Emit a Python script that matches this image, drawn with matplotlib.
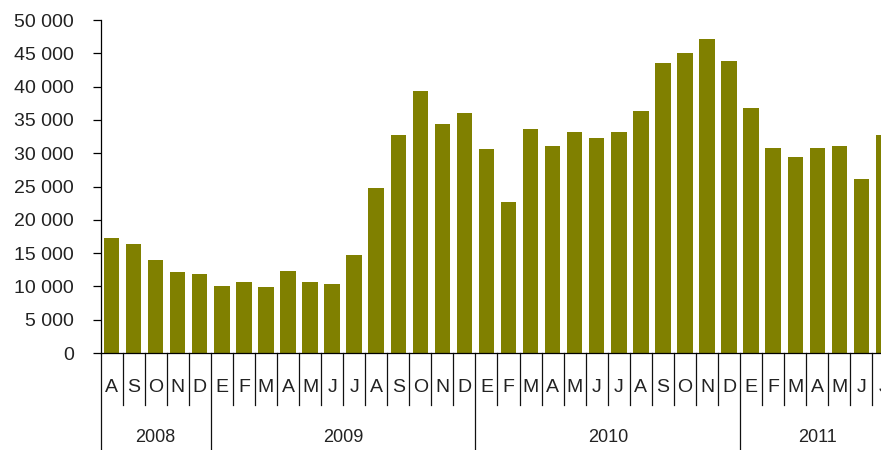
import matplotlib
matplotlib.use("Agg")
import matplotlib.pyplot as plt
from matplotlib.ticker import FuncFormatter

# monthly values, Aug 2008 .. Jul 2011
values = [17300, 16400, 14000, 12200, 11800,
          10100, 10600, 9900, 12300, 10600, 10400, 14700, 24800, 32800, 39300, 34400, 36100,
          30600, 22600, 33700, 31100, 33200, 32300, 33200, 36400, 43600, 45000, 47200, 43800,
          36800, 30800, 29400, 30800, 31100, 26200, 32800]
month_labels = ["A", "S", "O", "N", "D",
                "E", "F", "M", "A", "M", "J", "J", "A", "S", "O", "N", "D",
                "E", "F", "M", "A", "M", "J", "J", "A", "S", "O", "N", "D",
                "E", "F", "M", "A", "M", "J", "J"]
years = ["2008", "2009", "2010", "2011"]
year_counts = [5, 12, 12, 7]

plt.rcParams['font.family'] = ['Liberation Sans Narrow', 'Liberation Sans', 'DejaVu Sans']

W, H = 881, 450
fig = plt.figure(figsize=(W / 100, H / 100), dpi=100)
x0, x1, y0, y1 = 100.5, 894.5, 353, 20
ax = fig.add_axes([x0 / W, (H - y0) / H, (x1 - x0) / W, (y0 - y1) / H])

x = list(range(len(values)))
ax.bar(x, values, width=0.7, color="#808000")

ax.set_xlim(-0.5, len(values) - 0.5)
ax.set_ylim(0, 50000)
ax.set_yticks(range(0, 50001, 5000))
ax.yaxis.set_major_formatter(FuncFormatter(lambda v, p: "{:,}".format(int(v)).replace(",", " ")))
ax.tick_params(axis="y", length=6, width=0.9, pad=13, labelsize=14, labelcolor="#222222",
               labelfontfamily="Liberation Sans")
ax.set_xticks([])
for s in ["top", "right"]:
    ax.spines[s].set_visible(False)
ax.spines["left"].set_linewidth(0.9)
ax.spines["bottom"].set_linewidth(0.9)

ah = y0 - y1
tr = ax.get_xaxis_transform()
# year boundaries
bounds = [-0.5]
for c in year_counts:
    bounds.append(bounds[-1] + c)
for i in range(len(values) + 1):
    xb = i - 0.5
    low = -110 / ah if xb in bounds else -52 / ah
    ax.plot([xb, xb], [0, low], transform=tr, color="#111111", lw=0.9, clip_on=False)

for i, m in enumerate(month_labels):
    ax.text(i, -35 / ah, m, transform=tr, ha="center", va="center", fontsize=14, color="#222222")

for k, yl in enumerate(years):
    mid = (bounds[k] + bounds[k + 1]) / 2
    ax.text(mid, -84 / ah, yl, transform=tr, ha="center", va="center", fontsize=13,
            color="#222222", family="Liberation Sans")

fig.savefig("out.png", dpi=100)
